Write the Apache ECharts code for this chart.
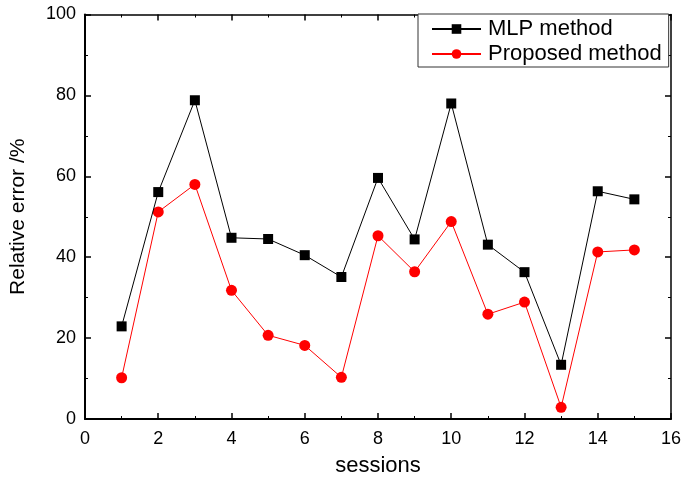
<!DOCTYPE html>
<html lang="en">
<head>
    <meta charset="UTF-8">
    <title>Relative error</title>
    <script src="https://cdn.jsdelivr.net/npm/echarts@6/dist/echarts.min.js"></script>
</head>
<body style="margin:0">

    <div id="main" style="width: 684px;height:482px;"></div>

    <script type="text/javascript">
        // sessions 1..15
        var sessions = [1, 2, 3, 4, 5, 6, 7, 8, 9, 10, 11, 12, 13, 14, 15];
        var mlpErr = [22.9, 56.1, 78.8, 44.8, 44.5, 40.5, 35.1, 59.6, 44.4, 78.0, 43.1, 36.3, 13.4, 56.3, 54.3];
        var proposedErr = [10.2, 51.2, 58.0, 31.8, 20.7, 18.2, 10.3, 45.3, 36.4, 48.8, 25.9, 28.9, 2.9, 41.3, 41.8];

        function pairs(xs, ys) {
            return xs.map(function (x, i) { return [x, ys[i]]; });
        }

        var myChart = echarts.init(document.getElementById('main'));
        var font = 'Liberation Sans, Arial, sans-serif';

        var baseAxis = {
            axisLine: { show: true, onZero: false, lineStyle: { color: '#000', width: 2 } },
            axisTick: { show: true, inside: true, length: 6, lineStyle: { color: '#000', width: 1.5 } },
            minorTick: { show: true, splitNumber: 2, length: 3, lineStyle: { color: '#000', width: 1 } },
            splitLine: { show: false },
            axisLabel: { color: '#000', fontSize: 18, fontFamily: font }
        };

        var option = {
            animation: false,
            grid: { left: 85, top: 14.5, right: 11, bottom: 62 },
            legend: {
                orient: 'vertical',
                left: 418,
                top: 14,
                padding: [4, 7, 2, 13],
                itemGap: 3,
                itemWidth: 49,
                itemHeight: 12,
                borderColor: '#333',
                borderWidth: 1,
                backgroundColor: '#fff',
                textStyle: { color: '#000', fontSize: 22, fontFamily: font, padding: [0, 0, 0, 2] },
                data: ['MLP method', 'Proposed method']
            },
            xAxis: [
                Object.assign({}, baseAxis, {
                    type: 'value', min: 0, max: 16, interval: 2,
                    name: 'sessions', nameLocation: 'middle', nameGap: 36,
                    nameTextStyle: { color: '#000', fontSize: 22, fontFamily: font },
                    axisLabel: { color: '#000', fontSize: 18, fontFamily: font, margin: 11 }
                }),
                Object.assign({}, baseAxis, {
                    type: 'value', min: 0, max: 16, interval: 2, position: 'top',
                    axisLine: { show: true, onZero: false, lineStyle: { color: '#000', width: 1.5 } },
                    axisLabel: { show: false }
                })
            ],
            yAxis: [
                Object.assign({}, baseAxis, {
                    type: 'value', min: 0, max: 100, interval: 20,
                    name: 'Relative error /%', nameLocation: 'middle', nameGap: 56,
                    nameTextStyle: { color: '#000', fontSize: 21, fontFamily: font },
                    axisLabel: { color: '#000', fontSize: 18, fontFamily: font, margin: 9 }
                }),
                Object.assign({}, baseAxis, {
                    type: 'value', min: 0, max: 100, interval: 20, position: 'right',
                    axisLine: { show: true, onZero: false, lineStyle: { color: '#000', width: 1.5 } },
                    axisLabel: { show: false }
                })
            ],
            series: [
                {
                    name: 'MLP method',
                    type: 'line',
                    data: pairs(sessions, mlpErr),
                    symbol: 'rect',
                    symbolSize: 10,
                    itemStyle: { color: '#000' },
                    lineStyle: { color: '#000', width: 1 },
                    z: 3
                },
                {
                    name: 'Proposed method',
                    type: 'line',
                    data: pairs(sessions, proposedErr),
                    symbol: 'circle',
                    symbolSize: 11,
                    itemStyle: { color: '#ff0000' },
                    lineStyle: { color: '#ff0000', width: 1 },
                    z: 2
                }
            ]
        };

        myChart.setOption(option);
    </script>
</body>
</html>
